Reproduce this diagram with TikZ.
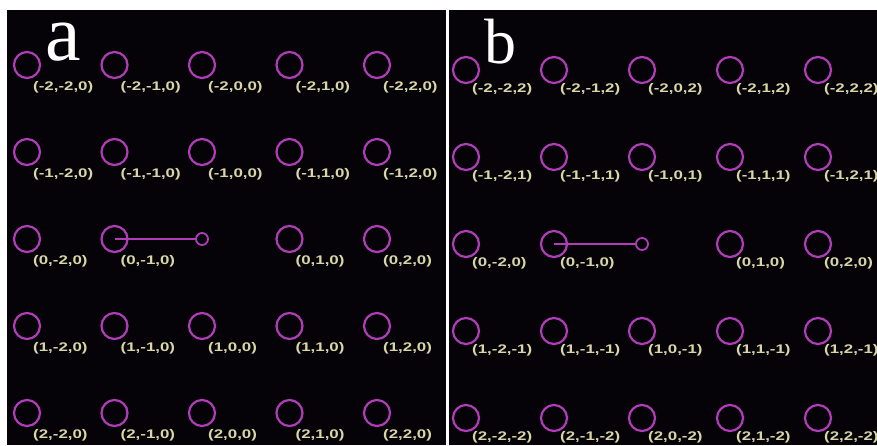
\documentclass[tikz,border=0pt]{standalone}
\usepackage{fontspec}
\usepackage{graphicx}
\setmainfont{Liberation Serif}
\newfontfamily\labfont{Liberation Sans}
\definecolor{bgc}{HTML}{050308}
\definecolor{ringc}{HTML}{B03CB8}
\definecolor{labc}{HTML}{D8D6A6}
\begin{document}
\begin{tikzpicture}[x=1pt,y=-1pt,
  ringstyle/.style={circle,draw=ringc,line width=2.2pt,minimum size=26pt,inner sep=0pt},
  endstyle/.style={circle,draw=ringc,line width=1.8pt,minimum size=12pt,inner sep=0pt},
  labstyle/.style={anchor=west,text=labc,inner sep=0pt,font=\labfont\bfseries\fontsize{12.5}{12.5}\selectfont},
  conn/.style={draw=ringc,line width=1.8pt},
  letter/.style={text=white,anchor=base west,inner sep=0pt}]
\useasboundingbox (0,0) rectangle (877,445);
\clip (0,0) rectangle (877,445);
\fill[white] (0,0) rectangle (877,445);
\fill[bgc] (7,10) rectangle (446,445);
\fill[bgc] (448.5,10) rectangle (877,445);
% panel a
\foreach \i/\r in {0/-2,1/-1,2/0,3/1,4/2}{
  \foreach \j/\c in {0/-2,1/-1,2/0,3/1,4/2}{
    \pgfmathsetmacro{\px}{27+87.5*\j}
    \pgfmathsetmacro{\py}{65+87*\i}
    \ifnum\i=2 \ifnum\j=2 \def\skipit{1}\else\def\skipit{0}\fi\else\def\skipit{0}\fi
    \ifnum\skipit=0
      \node[ringstyle] (a\i\j) at (\px,\py) {};
      \node[labstyle] (la\i\j) at (\px+6,\py+22) {\scalebox{1.35}[1]{(\r,\c,0)}};
    \fi
  }
}
\node[endstyle] (aend) at (202,239) {};
\draw[conn] (a21.center) -- (aend.west);
% panel b
\foreach \i/\r/\t in {0/-2/2,1/-1/1,2/0/0,3/1/-1,4/2/-2}{
  \foreach \j/\c in {0/-2,1/-1,2/0,3/1,4/2}{
    \pgfmathsetmacro{\px}{466+88*\j}
    \pgfmathsetmacro{\py}{70+87*\i}
    \ifnum\i=2 \ifnum\j=2 \def\skipit{1}\else\def\skipit{0}\fi\else\def\skipit{0}\fi
    \ifnum\skipit=0
      \node[ringstyle] (b\i\j) at (\px,\py) {};
      \node[labstyle] (lb\i\j) at (\px+6,\py+19) {\scalebox{1.35}[1]{(\r,\c,\t)}};
    \fi
  }
}
\node[endstyle] (bend) at (642,244) {};
\draw[conn] (b21.center) -- (bend.west);
% letters
\node[letter,font=\fontsize{80}{80}\selectfont] (ta) at (45,60) {a};
\node[letter,font=\fontsize{64}{64}\selectfont] (tb) at (484,63) {b};
\end{tikzpicture}
\end{document}
